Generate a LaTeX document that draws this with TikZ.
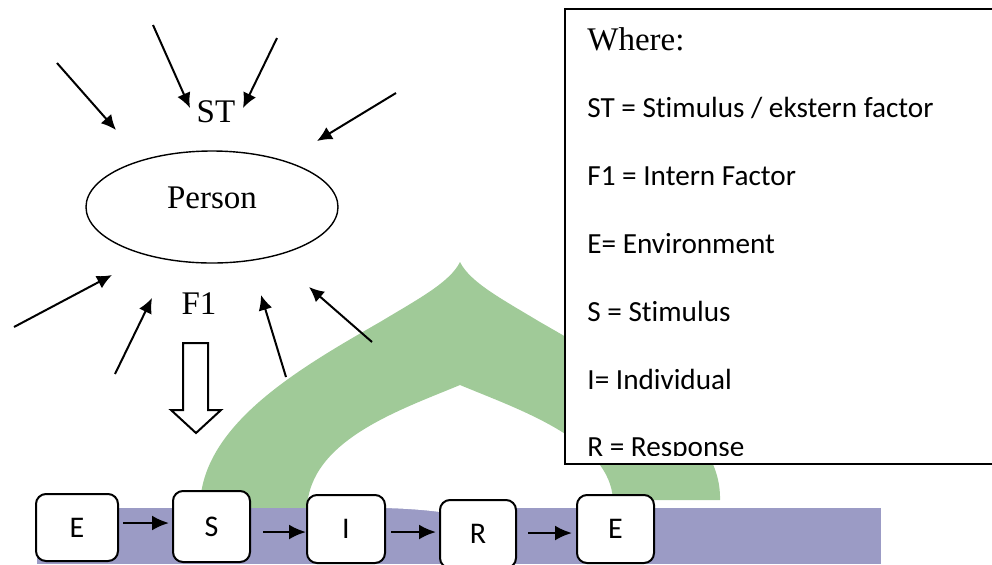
\documentclass[tikz,border=0pt]{standalone}
\usepackage{fontspec}
\setmainfont{Liberation Serif}
\newfontfamily\calibrifont[Ligatures=NoCommon]{Carlito}
\usetikzlibrary{arrows.meta,positioning,shapes.geometric}

\definecolor{domegreen}{RGB}{160,202,152}
\definecolor{bandblue}{RGB}{155,155,197}

\begin{document}
\begin{tikzpicture}[x=0.5pt,y=-0.5pt,
  serif/.style={inner sep=0pt,font=\fontsize{16.5}{20}\selectfont},
  ray/.style={line width=1pt,-{Latex[length=7.5pt,width=7pt]}},
  flow/.style={line width=1.2pt,-{Latex[length=8.5pt,width=7.5pt]}},
  letterbox/.style={draw,line width=1pt,rounded corners=5pt,fill=white,minimum width=38.5pt,minimum height=34pt,inner sep=0pt,font=\calibrifont\fontsize{15}{18}\selectfont},
  legend/.style={anchor=base west,inner sep=0pt,font=\calibrifont\fontsize{14.6}{17}\selectfont}]
\useasboundingbox (0,0) rectangle (992,564);

% watermark behind the diagram
\fill[domegreen] (200,508) .. controls (200,425) and (300,368) .. (380,322)
  .. controls (420,298) and (450,282) .. (460,262)
  .. controls (470,282) and (500,298) .. (540,322)
  .. controls (620,368) and (722,425) .. (720,500) -- (613,500)
  .. controls (610,440) and (520,410) .. (460,385)
  .. controls (400,410) and (310,440) .. (307,508) -- cycle;
\fill[bandblue] (37,508) rectangle (881,564);
\fill[white] (385,508) .. controls (420,509) and (450,512) .. (470,518) -- (470,508) -- cycle;

% person and the factors round it
\node[draw,ellipse,line width=0.7pt,minimum width=126pt,minimum height=56pt] (person) at (212,207) {};
\node[serif,yshift=4.5pt] (personlabel) at (person.center) {Person};
\node[serif] (st) at (216,112) {ST};
\node[serif] (f1) at (199,304) {F1};

\foreach \k/\tx/\ty/\hx/\hy in {1/57/63/116/130, 2/153/25/190/108, 3/277/38/243/108, 4/396/93/317/141,
  5/14/327/112/275, 6/115/374/152/298, 7/286/377/261/295, 8/372/342/309/287}{
  \coordinate (tail\k) at (\tx,\ty);
  \coordinate (head\k) at (\hx,\hy);
  \draw[ray] (tail\k) -- (head\k);
}

\draw[line width=1pt,fill=white] (183,343) -- (208,343) -- (208,410) -- (221,410) -- (196,433)
  -- (171,410) -- (183,410) -- cycle;

% E -> S -> I -> R -> E
\node[letterbox,minimum width=41pt,minimum height=33.5pt] (e1) at (77,527.5) {E};
\node[letterbox,minimum height=35.5pt] (s) at (211.5,526.5) {S};
\node[letterbox,minimum width=39pt] (i) at (346,529) {I};
\node[letterbox,minimum width=38pt] (r) at (478,534) {R};
\node[letterbox] (e2) at (615.5,529) {E};

\draw[flow] ([shift={(4,-4.5)}]e1.east) -- ([shift={(-3,-3.5)}]s.west);
\draw[flow] ([shift={(12,5.5)}]s.east) -- ([shift={(0,3)}]i.west);
\draw[flow] ([shift={(5,3)}]i.east) -- ([shift={(-3,-2)}]r.west);
\draw[flow] ([shift={(11,-1)}]r.east) -- ([shift={(-4,4)}]e2.west);

% legend
\draw[line width=1pt,fill=white] (565,8.5) rectangle (1000,464);
\begin{scope}
\clip (565,8) rectangle (1000,455);
\node[serif,anchor=base west] (where) at (587,50) {Where:};
\foreach \entry [count=\k] in {{ST = Stimulus / ekstern factor}, {F1 = Intern Factor}, {E= Environment},
  {S = Stimulus}, {I= Individual}, {R = Response}}
  \node[legend] (leg\k) at (587,{50+67.8*\k}) {\entry};
\end{scope}

\end{tikzpicture}
\end{document}
